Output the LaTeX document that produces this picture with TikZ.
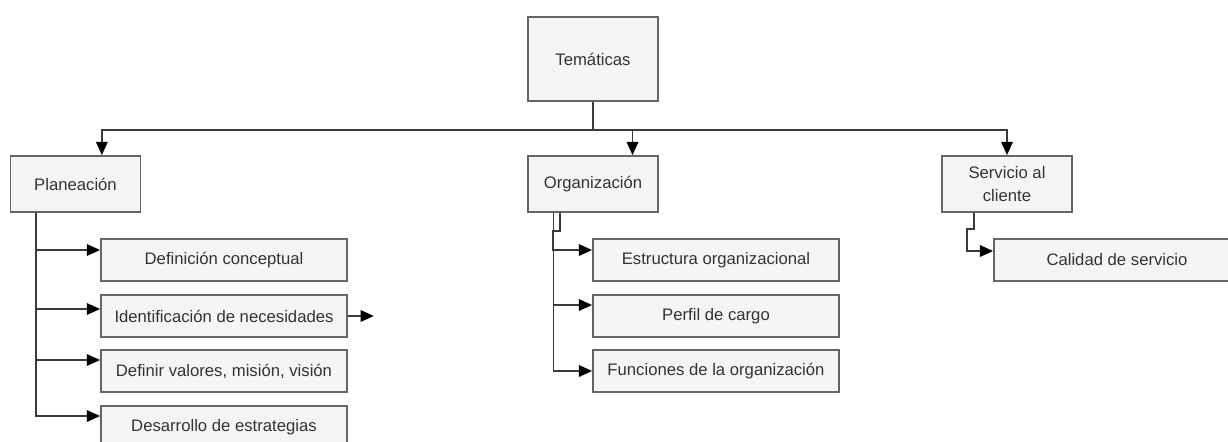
\documentclass[tikz,border=0pt]{standalone}
\usepackage{fontspec}
\setmainfont{Liberation Sans}
\usetikzlibrary{positioning, arrows.meta, calc}
\definecolor{boxfill}{HTML}{F5F5F5}
\definecolor{boxline}{HTML}{666666}
\definecolor{boxtext}{HTML}{333333}
\definecolor{linkcol}{HTML}{3A3A3A}

\begin{document}
\begin{tikzpicture}[x=0.02cm, y=-0.02cm,
    font=\fontsize{9.5}{13}\selectfont,
    topic/.style={draw=boxline, fill=boxfill, text=boxtext, line width=1pt,
                  minimum width=2.6cm, minimum height=1.12cm, align=center, inner sep=2pt},
    item/.style={topic, minimum width=4.92cm, minimum height=0.84cm},
    link/.style={draw=linkcol, line width=1pt,
                 -{Triangle[length=7.5pt,width=6.5pt,color=black,fill=black]}}]
  \useasboundingbox (0,0) rectangle (1228,441);
  % root and first level
  \node[topic, minimum height=1.68cm] (tema) at (593,59) {Temáticas};
  \node[topic] (plan) at (75.5,184) {Planeación};
  \node[topic] (org) at (593,184) {Organización};
  \node[topic] (serv) at (1007,184) {Servicio al\\cliente};
  % planeacion items
  \node[item] (def) at (224,260) {Definición conceptual};
  \node[item] (ide) at (224,316) {Identificación de necesidades};
  \node[item] (val) at (224,371) {Definir valores, misión, visión};
  \node[item] (des) at (224,427) {Desarrollo de estrategias};
  % organizacion items
  \node[item] (estr) at (716,260) {Estructura organizacional};
  \node[item] (perf) at (716,316) {Perfil de cargo};
  \node[item] (fun) at (716,371) {Funciones de la organización};
  % servicio item
  \node[item] (cal) at (1117,260) {Calidad de servicio};
  \coordinate (ideout) at ($(ide.east)+(26,0)$);

  % root to first level
  \draw[link] (tema.south) -- ++(0,28) -| ($(plan.north west)!0.7!(plan.north east)$);
  \draw[link] (tema.south) -- ++(0,28) -| ($(org.north west)!0.8!(org.north east)$);
  \draw[link] (tema.south) -- ++(0,28) -| (serv.north);
  % planeacion
  \draw[link] ($(plan.south west)!0.2!(plan.south east)$) |- ($(def.west)+(0,-10)$);
  \draw[link] ($(plan.south west)!0.2!(plan.south east)$) |- ($(ide.west)+(0,-7)$);
  \draw[link] ($(plan.south west)!0.2!(plan.south east)$) |- ($(val.west)+(0,-11)$);
  \draw[link] ($(plan.south west)!0.2!(plan.south east)$) |- ($(des.west)+(0,-11)$);
  \draw[link] (ide.east) -- (ideout);
  % organizacion
  \draw[link] ($(org.south west)!0.25!(org.south east)$) -- ++(0,18) -- ++(-7,0) |- ($(estr.west)+(0,-10)$);
  \draw[link] ($(org.south west)!0.2!(org.south east)$) |- ($(perf.west)+(0,-11)$);
  \draw[link] ($(org.south west)!0.2!(org.south east)$) |- (fun.west);
  % servicio
  \draw[link] ($(serv.south west)!0.25!(serv.south east)$) -- ++(0,16) -- ++(-7,0) |- ($(cal.west)+(0,-9)$);
\end{tikzpicture}
\end{document}
